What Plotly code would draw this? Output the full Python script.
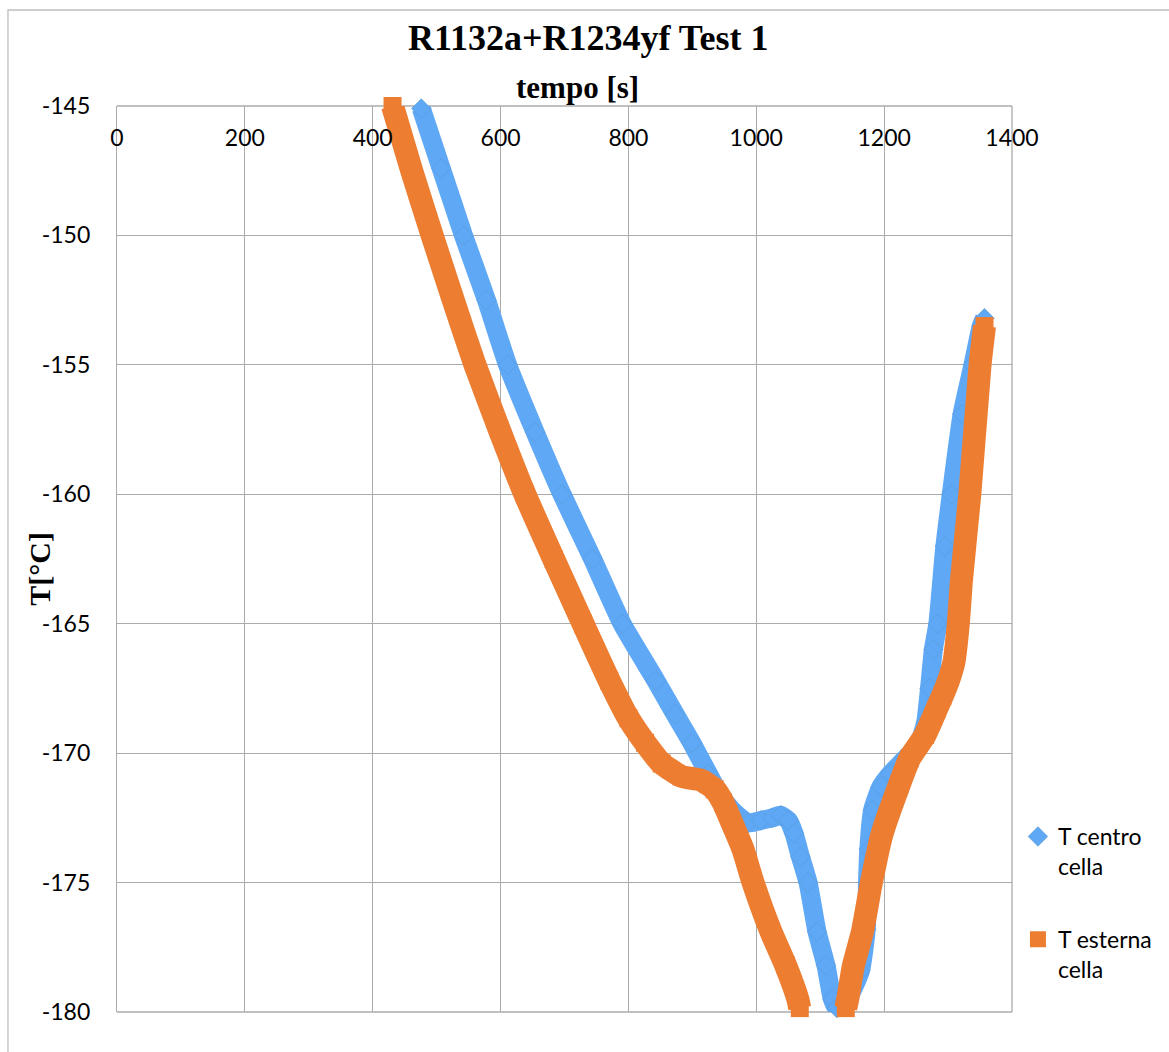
import plotly.graph_objects as go

# T centro cella: time [s] and temperature [°C]
tempo_centro = [476, 507, 542, 578, 611, 654, 696, 744, 790, 843, 873, 899, 925, 945,
                966, 987, 1007, 1025, 1038, 1050, 1059, 1069, 1081, 1095, 1109, 1119, 1126,
                1145, 1163, 1172, 1174, 1176, 1182, 1195, 1210, 1234, 1255, 1265, 1271,
                1277, 1284, 1295, 1305, 1322, 1339, 1352, 1357]
temp_centro = [-145.1, -147.4, -150.0, -152.5, -155.0, -157.6, -160.0, -162.5, -165.0, -167.2,
               -168.5, -169.6, -170.8, -171.7, -172.3, -172.7, -172.6, -172.5, -172.4, -172.6,
               -173.1, -174.0, -175.0, -176.9, -178.2, -179.5, -179.85,
               -179.4, -178.4, -176.8, -175.0, -173.7, -172.2, -171.3, -170.8, -170.2, -169.6,
               -168.8, -167.5, -166.0, -165.0, -162.0, -160.0, -156.9, -155.0, -153.5, -153.2]

# T esterna cella (readings below -180 °C fall off the axis, hence the break)
tempo_esterna = [431, 461, 493, 526, 560, 598, 638, 683, 729, 770, 800, 826, 852, 883, 914,
                 935, 948, 962, 979, 995, 1023, 1046, 1065, 1068, None,
                 1140, 1143, 1152, 1166, 1180, 1197, 1224, 1240, 1264, 1282, 1291, 1302,
                 1309, 1316, 1321, 1334, 1350, 1357]
temp_esterna = [-145.0, -147.5, -150.0, -152.5, -155.0, -157.5, -160.0, -162.5, -165.0, -167.2,
                -168.65, -169.6, -170.4, -170.9, -171.05, -171.4, -171.9, -172.7, -173.7, -175.0,
                -176.9, -178.2, -179.5, -179.85, None,
                -179.85, -179.5, -178.2, -176.9, -175.0, -173.1, -171.2, -170.2, -169.3, -168.3,
                -167.8, -167.1, -166.5, -165.0, -163.3, -160.0, -155.0, -153.5]

x_ticks = [0, 200, 400, 600, 800, 1000, 1200, 1400]
y_ticks = [-145, -150, -155, -160, -165, -170, -175, -180]

BLUE_FILL = "#5FA8F6"
BLUE_EDGE = "#5B9BD5"
ORANGE = "#ED7D31"
GRID = "#ABABAB"
SANS = "Lato, 'Open Sans', sans-serif"
SERIF = "'Liberation Serif', 'Times New Roman', serif"

# plot-area geometry in pixels
W, H = 1169, 1052
L, R, T, B = 117, 1020, 106, 1012
PW, PH = R - L, B - T


def px_x(p):
    return (p - L) / PW


def px_y(p):
    return (B - p) / PH


fig = go.Figure()

# thick bands made by the densely packed markers
fig.add_trace(go.Scatter(
    x=tempo_centro, y=temp_centro, mode="lines",
    line=dict(color=BLUE_FILL, width=19, shape="spline", smoothing=0.5),
    showlegend=False, legendgroup="centro", hoverinfo="skip"))
fig.add_trace(go.Scatter(
    x=tempo_centro, y=temp_centro, mode="markers", name="T centro<br>cella",
    legendgroup="centro", cliponaxis=False,
    marker=dict(symbol="diamond", size=15, color=BLUE_FILL,
                line=dict(color=BLUE_EDGE, width=0.7))))

fig.add_trace(go.Scatter(
    x=tempo_esterna, y=temp_esterna, mode="lines", connectgaps=False,
    line=dict(color=ORANGE, width=23, shape="spline", smoothing=0.5),
    showlegend=False, legendgroup="esterna", hoverinfo="skip"))
fig.add_trace(go.Scatter(
    x=tempo_esterna, y=temp_esterna, mode="markers", name="T esterna<br>cella",
    legendgroup="esterna", cliponaxis=False,
    marker=dict(symbol="square", size=18, color=ORANGE, line=dict(width=0))))

# x axis: labels hang just below the top edge of the plot area
fig.update_xaxes(
    range=[0, 1400], tickvals=x_ticks, ticktext=[str(v) for v in x_ticks],
    anchor="free", position=px_y(122), side="bottom", ticks="",
    showgrid=True, gridcolor=GRID, gridwidth=1.3,
    showline=False, zeroline=False,
    tickfont=dict(family=SANS, size=23, color="#000000"))
fig.update_yaxes(
    range=[-180, -145], tickvals=y_ticks, ticktext=[str(v) for v in y_ticks],
    ticks="", ticklabelstandoff=21,
    showgrid=True, gridcolor=GRID, gridwidth=1.3,
    showline=True, linecolor=GRID, linewidth=1.3, zeroline=False,
    tickfont=dict(family=SANS, size=23, color="#000000"))

# frame lines of the plot area (top, right, bottom)
for x0, x1, y0, y1 in [(0, 1, 1, 1), (1, 1, 0, 1), (0, 1, 0, 0)]:
    fig.add_shape(type="line", xref="paper", yref="paper", x0=x0, x1=x1, y0=y0, y1=y1,
                  line=dict(color=GRID, width=1.3), layer="below")
# chart-area border
fig.add_shape(type="rect", xref="paper", yref="paper",
              x0=px_x(7), x1=px_x(1185), y0=px_y(1070), y1=px_y(10),
              line=dict(color="#BFBFBF", width=1.3), fillcolor="rgba(0,0,0,0)")

fig.add_annotation(text="<b>R1132a+R1234yf Test 1</b>", xref="paper", yref="paper",
                   x=px_x(593), y=px_y(38), xanchor="center", yanchor="middle",
                   showarrow=False, font=dict(family=SERIF, size=36, color="#000000"))
fig.add_annotation(text="<b>tempo [s]</b>", xref="paper", yref="paper",
                   x=px_x(582), y=px_y(87), xanchor="center", yanchor="middle",
                   showarrow=False, font=dict(family=SERIF, size=31, color="#000000"))
fig.add_annotation(text="<b>T[°C]</b>", xref="paper", yref="paper",
                   x=px_x(38), y=px_y(569), xanchor="center", yanchor="middle",
                   showarrow=False, textangle=-90,
                   font=dict(family=SERIF, size=30, color="#000000"))

fig.update_layout(
    width=W, height=H, autosize=False,
    margin=dict(l=L, r=W - R, t=T, b=H - B),
    paper_bgcolor="white", plot_bgcolor="white",
    legend=dict(x=px_x(1026), y=px_y(815), xanchor="left", yanchor="top",
                valign="top", tracegroupgap=40, bgcolor="rgba(0,0,0,0)",
                font=dict(family=SANS, size=23, color="#000000")),
)

fig.write_html("out.html")
